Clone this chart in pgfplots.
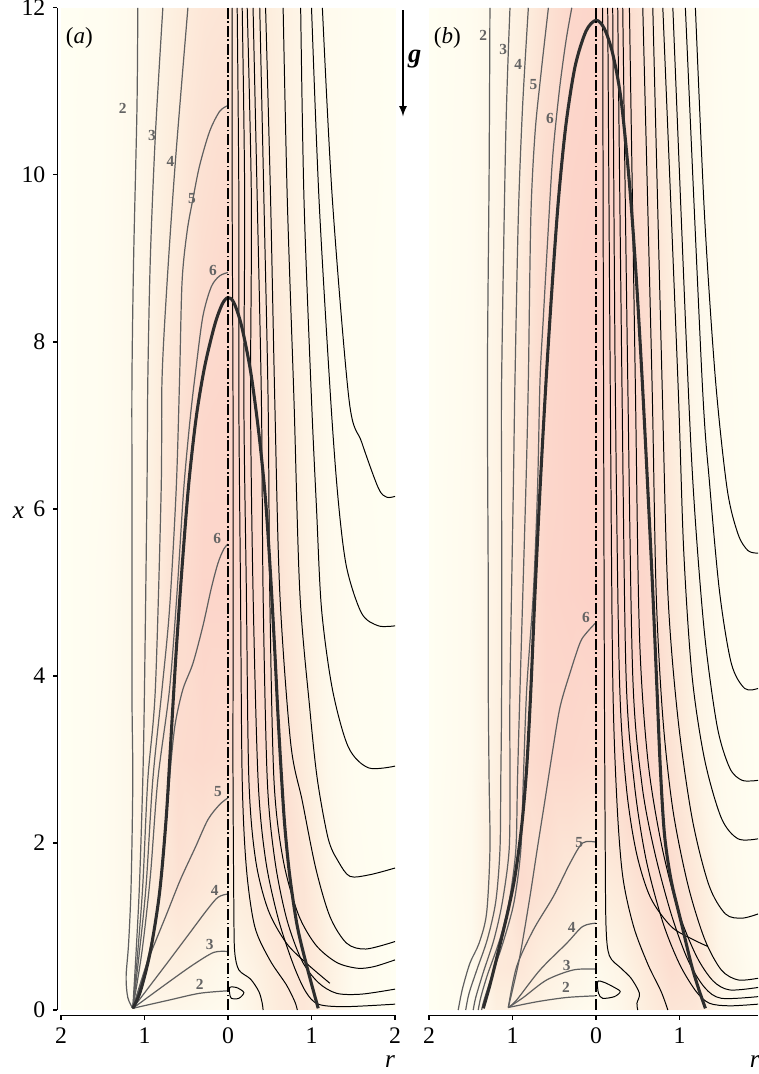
\documentclass[border=0pt]{standalone}
\usepackage{fontspec}
\setmainfont{Liberation Serif}
\usepackage{pgfplots}
\usepackage{pgfplotstable}
\pgfplotsset{compat=1.18}

\definecolor{ctrgray}{RGB}{95,95,95}
\definecolor{bubgray}{RGB}{45,45,45}
\definecolor{labgray}{RGB}{100,100,100}

\tikzset{lab/.style={text=labgray, font=\fontsize{7}{8}\selectfont\bfseries, inner sep=0pt}}

\pgfplotsset{
  panel/.style={
    x=38pt, y=38pt, ymin=0, ymax=12, clip=false,
    axis x line*=bottom, axis x line shift=2.5pt,
    tick align=outside, major tick length=2pt,
    every tick/.style={black, line width=0.6pt},
    axis line style={line width=0.7pt},
    ticklabel style={font=\fontsize{10.8}{12}\selectfont},
    /pgf/number format/assume math mode=true,
    colormap={bg}{rgb255(0cm)=(255,254,242); rgb255(0.35cm)=(253,238,222); rgb255(0.7cm)=(252,222,208); rgb255(1cm)=(252,209,199)},
    point meta min=0, point meta max=1,
  },
  ctr/.style={no marks, smooth, color=ctrgray, line width=0.55pt},
  sl/.style={no marks, smooth, black, line width=0.45pt},
  bub/.style={no marks, smooth, color=bubgray, line width=1.4pt},
  axisline/.style={no marks, black, line width=0.5pt, dash pattern=on 5pt off 1.2pt on 0.8pt off 1.2pt},
  bgmap/.style={surf, shader=interp, mesh/cols=13, mesh/ordering=x varies, point meta=explicit},
}

% background field, panel (a)
\pgfplotstableread{
u y c
-2 0 0
-1.5 0 0.02
-1.2 0 0.06
-0.9 0 0.15
-0.6 0 0.15
-0.3 0 0.1
0 0 0.05
0.3 0 0.2
0.6 0 0.4
0.9 0 0.5
1.2 0 0.3
1.5 0 0.06
2 0 0
-2 0.5 0
-1.5 0.5 0.03
-1.2 0.5 0.1
-0.9 0.5 0.3
-0.6 0.5 0.3
-0.3 0.5 0.2
0 0.5 0.1
0.3 0.5 0.25
0.6 0.5 0.45
0.9 0.5 0.55
1.2 0.5 0.3
1.5 0.5 0.08
2 0.5 0
-2 1.5 0
-1.5 1.5 0.04
-1.2 1.5 0.12
-0.9 1.5 0.45
-0.6 1.5 0.6
-0.3 1.5 0.5
0 1.5 0.35
0.3 1.5 0.45
0.6 1.5 0.6
0.9 1.5 0.55
1.2 1.5 0.2
1.5 1.5 0.05
2 1.5 0
-2 3 0
-1.5 3 0.04
-1.2 3 0.12
-0.9 3 0.4
-0.6 3 0.75
-0.3 3 0.8
0 3 0.75
0.3 3 0.75
0.6 3 0.7
0.9 3 0.4
1.2 3 0.12
1.5 3 0.03
2 3 0
-2 5 0
-1.5 5 0.04
-1.2 5 0.12
-0.9 5 0.35
-0.6 5 0.7
-0.3 5 0.9
0 5 0.9
0.3 5 0.85
0.6 5 0.6
0.9 5 0.3
1.2 5 0.1
1.5 5 0.03
2 5 0
-2 7 0
-1.5 7 0.03
-1.2 7 0.1
-0.9 7 0.3
-0.6 7 0.6
-0.3 7 0.85
0 7 0.9
0.3 7 0.8
0.6 7 0.5
0.9 7 0.25
1.2 7 0.08
1.5 7 0.02
2 7 0
-2 9 0
-1.5 9 0.03
-1.2 9 0.1
-0.9 9 0.25
-0.6 9 0.45
-0.3 9 0.7
0 9 0.8
0.3 9 0.65
0.6 9 0.4
0.9 9 0.2
1.2 9 0.08
1.5 9 0.02
2 9 0
-2 12 0
-1.5 12 0.02
-1.2 12 0.08
-0.9 12 0.2
-0.6 12 0.35
-0.3 12 0.5
0 12 0.55
0.3 12 0.45
0.6 12 0.3
0.9 12 0.18
1.2 12 0.08
1.5 12 0.03
2 12 0
}\fieldA

% background field, panel (b)
\pgfplotstableread{
u y c
-2 0 0
-1.5 0 0.05
-1.2 0 0.3
-0.9 0 0.3
-0.6 0 0.2
-0.3 0 0.1
0 0 0.05
0.3 0 0.15
0.6 0 0.35
0.9 0 0.55
1.2 0 0.5
1.5 0 0.15
1.94 0 0
-2 0.5 0
-1.5 0.5 0.08
-1.2 0.5 0.45
-0.9 0.5 0.5
-0.6 0.5 0.3
-0.3 0.5 0.2
0 0.5 0.1
0.3 0.5 0.2
0.6 0.5 0.45
0.9 0.5 0.7
1.2 0.5 0.6
1.5 0.5 0.2
1.94 0.5 0.02
-2 1.5 0
-1.5 1.5 0.1
-1.2 1.5 0.45
-0.9 1.5 0.75
-0.6 1.5 0.6
-0.3 1.5 0.45
0 1.5 0.35
0.3 1.5 0.45
0.6 1.5 0.7
0.9 1.5 0.75
1.2 1.5 0.45
1.5 1.5 0.12
1.94 1.5 0.02
-2 3 0
-1.5 3 0.08
-1.2 3 0.3
-0.9 3 0.7
-0.6 3 0.85
-0.3 3 0.85
0 3 0.8
0.3 3 0.85
0.6 3 0.85
0.9 3 0.6
1.2 3 0.25
1.5 3 0.08
1.94 3 0
-2 5 0
-1.5 5 0.08
-1.2 5 0.25
-0.9 5 0.6
-0.6 5 0.9
-0.3 5 0.95
0 5 1
0.3 5 0.95
0.6 5 0.85
0.9 5 0.5
1.2 5 0.18
1.5 5 0.06
1.94 5 0
-2 7 0
-1.5 7 0.07
-1.2 7 0.22
-0.9 7 0.5
-0.6 7 0.85
-0.3 7 0.95
0 7 1
0.3 7 0.95
0.6 7 0.75
0.9 7 0.4
1.2 7 0.14
1.5 7 0.05
1.94 7 0
-2 9 0
-1.5 9 0.06
-1.2 9 0.2
-0.9 9 0.4
-0.6 9 0.8
-0.3 9 0.95
0 9 1
0.3 9 0.95
0.6 9 0.7
0.9 9 0.35
1.2 9 0.12
1.5 9 0.04
1.94 9 0
-2 12 0
-1.5 12 0.05
-1.2 12 0.15
-0.9 12 0.3
-0.6 12 0.6
-0.3 12 0.85
0 12 0.9
0.3 12 0.8
0.6 12 0.5
0.9 12 0.25
1.2 12 0.1
1.5 12 0.03
1.94 12 0
}\fieldB

\begin{document}
\begin{tikzpicture}
%---------------------------------------------------------------- (a)
\begin{axis}[panel, at={(-76pt,0pt)}, anchor=south west,
  xmin=-2, xmax=2,
  axis y line*=left, axis y line shift=1.6pt,
  ytick={0,2,4,6,8,10,12},
  xtick={-2,-1,0,1,2}, xticklabels={2,1,0,1,2},
]
\addplot[bgmap] table[x=u, y=y, meta=c] {\fieldA};

% isolines, left half
\addplot[ctr] coordinates {(-1.08,12)(-1.09,10.8)(-1.13,9)(-1.15,7.55)(-1.15,6.24)(-1.15,3.84)(-1.14,2.76)(-1.16,1.5)(-1.19,0.8)(-1.22,0.4)(-1.2,0.15)(-1.14,0.02)};
\addplot[ctr] coordinates {(-0.78,12)(-0.87,10.47)(-0.93,9)(-0.96,7.55)(-0.97,6.24)(-1.0,3.84)(-1.02,2.76)(-1.06,1.5)(-1.1,0.7)(-1.14,0.02)};
\addplot[ctr] coordinates {(-0.48,12)(-0.63,10.16)(-0.73,8.7)(-0.79,7.55)(-0.8,6.24)(-0.87,3.84)(-0.96,2.76)(-1.02,1.5)(-1.08,0.7)(-1.14,0.02)};
\addplot[ctr] coordinates {(0,10.83)(-0.1,10.76)(-0.22,10.52)(-0.34,10.11)(-0.42,9.71)(-0.49,9.32)(-0.55,8.72)(-0.58,7.55)(-0.62,6.24)(-0.7,4.8)(-0.79,3.84)(-0.9,2.76)(-0.98,1.5)(-1.06,0.7)(-1.14,0.02)};
\addplot[ctr] coordinates {(0,8.83)(-0.1,8.79)(-0.2,8.66)(-0.3,8.31)(-0.38,7.71)(-0.45,7.11)(-0.53,6.24)(-0.61,5.0)(-0.7,3.84)(-0.84,2.76)(-0.93,1.6)(-1.03,0.7)(-1.14,0.02)};
\addplot[ctr] coordinates {(0,5.58)(-0.05,5.52)(-0.12,5.35)(-0.2,5.05)(-0.3,4.6)(-0.42,4.15)(-0.54,3.84)(-0.63,3.44)(-0.68,3.0)(-0.72,2.5)(-0.78,1.8)(-0.86,1.1)(-1.0,0.45)(-1.14,0.02)};
\addplot[ctr] coordinates {(0,2.54)(-0.1,2.46)(-0.24,2.28)(-0.39,1.95)(-0.57,1.56)(-0.73,1.16)(-0.97,0.56)(-1.14,0.02)};
\addplot[ctr] coordinates {(0,1.39)(-0.12,1.35)(-0.25,1.2)(-0.46,0.92)(-0.73,0.56)(-1.14,0.02)};
\addplot[ctr] coordinates {(0,0.70)(-0.17,0.69)(-0.42,0.54)(-0.73,0.32)(-1.14,0.02)};
\addplot[ctr] coordinates {(0,0.23)(-0.34,0.2)(-0.7,0.12)(-1.14,0.02)};

% streamlines, right half
\addplot[sl] coordinates {(0.05,12)(0.05,9.7)(0.06,7.3)(0.06,4)(0.06,2.76)(0.07,1.2)(0.08,0.7)(0.13,0.48)(0.27,0.37)(0.37,0.22)(0.41,0.08)(0.42,0)};
\addplot[sl] coordinates {(0.11,12)(0.13,9.7)(0.13,7.3)(0.15,5)(0.17,2.76)(0.22,1.7)(0.32,1.0)(0.5,0.6)(0.7,0.3)(0.8,0.1)(0.83,0)};
\addplot[sl] coordinates {(0.17,12)(0.2,9.7)(0.19,7.3)(0.22,5)(0.25,2.76)(0.33,1.8)(0.48,1.2)(0.7,0.8)(0.95,0.55)(1.22,0.32)};
\addplot[sl] coordinates {(0.23,12)(0.28,9.7)(0.27,7.3)(0.3,5)(0.36,2.76)(0.45,1.8)(0.6,1.1)(0.78,0.55)(0.93,0.22)(1.08,0.07)(1.4,0.04)(2,0.07)};
\addplot[sl] coordinates {(0.30,12)(0.35,9.7)(0.4,7.3)(0.42,5)(0.47,2.76)(0.56,1.8)(0.7,1.1)(0.88,0.6)(1.08,0.33)(1.3,0.2)(1.6,0.19)(2,0.25)};
\addplot[sl] coordinates {(0.38,12)(0.43,9.7)(0.48,7.3)(0.5,5)(0.55,2.76)(0.66,1.8)(0.84,1.15)(1.05,0.78)(1.3,0.57)(1.55,0.5)(1.75,0.52)(2,0.6)};
\addplot[sl] coordinates {(0.45,12)(0.51,9.7)(0.56,7.3)(0.62,5)(0.75,3.2)(0.89,2.5)(1.05,1.7)(1.22,1.12)(1.42,0.8)(1.65,0.73)(2,0.82)};
\addplot[sl] coordinates {(0.66,12)(0.71,9.7)(0.79,7.3)(0.86,5)(0.98,3.6)(1.07,2.76)(1.2,2.05)(1.32,1.78)(1.46,1.6)(1.7,1.62)(2,1.7)};
\addplot[sl] coordinates {(0.87,12)(0.91,9.7)(1.0,7.3)(1.06,6)(1.12,4.8)(1.25,3.84)(1.44,3.15)(1.68,2.9)(2,2.92)};
\addplot[sl] coordinates {(1.0,12)(1.09,9.7)(1.23,7.3)(1.32,6.1)(1.42,5.3)(1.6,4.75)(1.8,4.6)(2,4.6)};
\addplot[sl] coordinates {(1.13,12)(1.25,9.7)(1.45,7.3)(1.6,6.8)(1.8,6.25)(1.9,6.14)(2,6.15)};
\addplot[sl, smooth cycle] coordinates {(0.02,0.27)(0.1,0.27)(0.19,0.21)(0.13,0.14)(0.04,0.14)(0.02,0.2)};

% interface
\addplot[bub] coordinates {(-1.14,0.02)(-1.05,0.22)(-0.93,0.7)(-0.82,1.4)(-0.74,2.3)(-0.68,3.3)(-0.62,4.3)(-0.55,5.3)(-0.47,6.3)(-0.38,7.1)(-0.28,7.7)(-0.16,8.2)(-0.07,8.45)(0,8.53)(0.07,8.47)(0.16,8.2)(0.27,7.65)(0.37,6.9)(0.45,6.1)(0.51,5.2)(0.56,4.3)(0.6,3.5)(0.64,2.8)(0.68,2.2)(0.74,1.6)(0.83,1.0)(0.95,0.5)(1.08,0.02)};

\addplot[axisline] coordinates {(0,0)(0,12)};

% isoline levels
\node[lab] at (axis cs:-1.26,10.79) {2};
\node[lab] at (axis cs:-0.91,10.47) {3};
\node[lab] at (axis cs:-0.69,10.16) {4};
\node[lab] at (axis cs:-0.43,9.71) {5};
\node[lab] at (axis cs:-0.18,8.86) {6};
\node[lab] at (axis cs:-0.13,5.64) {6};
\node[lab] at (axis cs:-0.12,2.62) {5};
\node[lab] at (axis cs:-0.16,1.43) {4};
\node[lab] at (axis cs:-0.22,0.78) {3};
\node[lab] at (axis cs:-0.34,0.31) {2};

\node[font=\fontsize{10.5}{12}\selectfont] at (axis cs:-1.78,11.64) {(\textit{a})};
\node[font=\fontsize{11.5}{13}\selectfont\itshape] at (axis cs:-2.51,5.95) {x};
\node[font=\fontsize{11.5}{13}\selectfont\itshape] at (axis cs:1.94,-0.62) {r};
\end{axis}

%---------------------------------------------------------------- (b)
\begin{axis}[panel, at={(91.44pt,0pt)}, anchor=south west,
  xmin=-2, xmax=1.94,
  axis y line=none,
  xtick={-2,-1,0,1}, xticklabels={2,1,0,1},
]
\addplot[bgmap] table[x=u, y=y, meta=c] {\fieldB};

% isolines, left half
\addplot[ctr] coordinates {(-1.27,12)(-1.28,10)(-1.3,7.55)(-1.29,5)(-1.29,3.84)(-1.28,2.76)(-1.27,1.92)(-1.31,1.16)(-1.4,0.8)(-1.51,0.56)(-1.6,0.25)(-1.65,0)};
\addplot[ctr] coordinates {(-1.03,12)(-1.08,10.5)(-1.13,7.55)(-1.13,6.24)(-1.13,3.84)(-1.14,2.76)(-1.15,1.92)(-1.2,1.3)(-1.3,0.85)(-1.42,0.5)(-1.52,0.2)(-1.56,0)};
\addplot[ctr] coordinates {(-0.81,12)(-0.88,10.8)(-0.93,9.5)(-0.97,7.55)(-0.99,6.24)(-1.03,3.84)(-1.03,2.76)(-1.04,1.92)(-1.12,1.3)(-1.22,0.85)(-1.35,0.45)(-1.44,0.15)(-1.47,0)};
\addplot[ctr] coordinates {(-0.57,12)(-0.66,11.2)(-0.73,10.5)(-0.78,9.5)(-0.81,7.55)(-0.84,6.24)(-0.91,3.84)(-0.94,2.76)(-0.96,1.92)(-1.04,1.3)(-1.15,0.85)(-1.3,0.42)(-1.38,0.15)(-1.41,0)};
\addplot[ctr] coordinates {(-0.29,12)(-0.36,11.6)(-0.44,11.0)(-0.52,10.2)(-0.58,9.2)(-0.63,8.3)(-0.67,7.55)(-0.7,6.24)(-0.75,5.0)(-0.83,3.84)(-0.87,2.76)(-0.9,1.92)(-0.98,1.3)(-1.1,0.85)(-1.25,0.4)(-1.34,0.12)(-1.37,0)};
\addplot[ctr] coordinates {(0,4.64)(-0.11,4.52)(-0.19,4.4)(-0.31,4.04)(-0.43,3.63)(-0.52,3.1)(-0.61,2.52)(-0.7,1.95)(-0.8,1.3)(-0.92,0.6)(-1.05,0.03)};
\addplot[ctr] coordinates {(0,2.01)(-0.16,2.0)(-0.31,1.76)(-0.51,1.36)(-0.75,0.96)(-0.95,0.52)(-1.05,0.03)};
\addplot[ctr] coordinates {(0,1.04)(-0.16,1.0)(-0.35,0.8)(-0.67,0.48)(-0.95,0.12)(-1.05,0.03)};
\addplot[ctr] coordinates {(0,0.49)(-0.27,0.48)(-0.59,0.36)(-0.87,0.15)(-1.05,0.03)};
\addplot[ctr] coordinates {(0,0.17)(-0.35,0.15)(-0.7,0.1)(-1.05,0.03)};

% streamlines, right half
\addplot[sl] coordinates {(0.08,12)(0.09,7.55)(0.1,4)(0.11,2)(0.12,1.0)(0.16,0.65)(0.3,0.5)(0.42,0.38)(0.52,0.2)(0.49,0.08)(0.5,0)};
\addplot[sl] coordinates {(0.14,12)(0.17,7.55)(0.2,4)(0.25,2.5)(0.32,1.6)(0.45,1.0)(0.62,0.55)(0.78,0.22)(0.86,0)};
\addplot[sl] coordinates {(0.2,12)(0.23,7.55)(0.28,4)(0.36,2.7)(0.48,1.9)(0.65,1.35)(0.9,1.0)(1.15,0.85)(1.34,0.76)};
\addplot[sl] coordinates {(0.26,12)(0.31,7.55)(0.36,4)(0.46,2.7)(0.6,1.8)(0.8,1.05)(1.0,0.55)(1.2,0.22)(1.36,0.08)(1.6,0.05)(1.94,0.07)};
\addplot[sl] coordinates {(0.32,12)(0.38,7.55)(0.44,4)(0.55,2.7)(0.7,1.9)(0.9,1.15)(1.1,0.6)(1.3,0.27)(1.5,0.14)(1.94,0.16)};
\addplot[sl] coordinates {(0.4,12)(0.47,7.55)(0.52,4.5)(0.62,3)(0.78,2.0)(0.98,1.2)(1.2,0.65)(1.4,0.35)(1.6,0.24)(1.94,0.27)};
\addplot[sl] coordinates {(0.56,12)(0.67,7.55)(0.72,5)(0.8,3.5)(0.92,2.4)(1.1,1.5)(1.3,0.85)(1.5,0.48)(1.7,0.36)(1.94,0.38)};
\addplot[sl] coordinates {(0.68,12)(0.79,7.55)(0.86,5.0)(0.98,3.5)(1.15,2.3)(1.35,1.5)(1.55,1.15)(1.75,1.1)(1.94,1.15)};
\addplot[sl] coordinates {(0.8,12)(0.98,7.55)(1.05,5.5)(1.15,4.0)(1.3,3.0)(1.5,2.3)(1.7,2.05)(1.94,2.05)};
\addplot[sl] coordinates {(0.92,12)(1.1,7.55)(1.18,6.0)(1.3,4.5)(1.45,3.4)(1.6,2.9)(1.75,2.75)(1.94,2.75)};
\addplot[sl] coordinates {(1.07,12)(1.27,7.55)(1.36,6.3)(1.48,5.0)(1.62,4.15)(1.78,3.85)(1.94,3.85)};
\addplot[sl] coordinates {(1.19,12)(1.3,9.5)(1.43,7.55)(1.57,6.24)(1.7,5.7)(1.82,5.5)(1.94,5.47)};
\addplot[sl, smooth cycle] coordinates {(0.02,0.34)(0.1,0.33)(0.22,0.27)(0.29,0.22)(0.22,0.16)(0.08,0.14)(0.03,0.2)};

% interface
\addplot[bub] coordinates {(-1.35,0.02)(-1.27,0.3)(-1.17,0.7)(-1.06,1.16)(-0.97,1.6)(-0.89,2.2)(-0.83,2.9)(-0.78,3.84)(-0.73,5)(-0.67,6.24)(-0.6,7.5)(-0.53,8.6)(-0.45,9.7)(-0.36,10.6)(-0.25,11.3)(-0.12,11.72)(0,11.85)(0.1,11.75)(0.2,11.45)(0.3,10.9)(0.4,9.9)(0.48,8.8)(0.55,7.6)(0.62,6.24)(0.68,5)(0.73,3.84)(0.77,2.9)(0.82,2.1)(0.9,1.55)(1.02,1.05)(1.14,0.55)(1.23,0.25)(1.31,0.02)};

\addplot[axisline] coordinates {(0,0)(0,12)};

\node[lab] at (axis cs:-1.35,11.67) {2};
\node[lab] at (axis cs:-1.11,11.5) {3};
\node[lab] at (axis cs:-0.93,11.32) {4};
\node[lab] at (axis cs:-0.75,11.08) {5};
\node[lab] at (axis cs:-0.55,10.68) {6};
\node[lab] at (axis cs:-0.12,4.70) {6};
\node[lab] at (axis cs:-0.2,2.0) {5};
\node[lab] at (axis cs:-0.29,0.99) {4};
\node[lab] at (axis cs:-0.35,0.53) {3};
\node[lab] at (axis cs:-0.36,0.27) {2};

\node[font=\fontsize{10.5}{12}\selectfont] at (axis cs:-1.78,11.64) {(\textit{b})};
\node[font=\fontsize{11.5}{13}\selectfont\itshape] at (axis cs:1.9,-0.62) {r};

% gravity
\draw[-latex, line width=0.6pt] (axis cs:-2.311,11.97) -- (axis cs:-2.311,10.70);
\node[font=\fontsize{12}{13}\selectfont\bfseries\itshape] at (axis cs:-2.17,11.38) {g};
\end{axis}

\pgfresetboundingbox
\useasboundingbox (-103.74pt,-29.12pt) rectangle (241.15pt,459.55pt);
\end{tikzpicture}
\end{document}
